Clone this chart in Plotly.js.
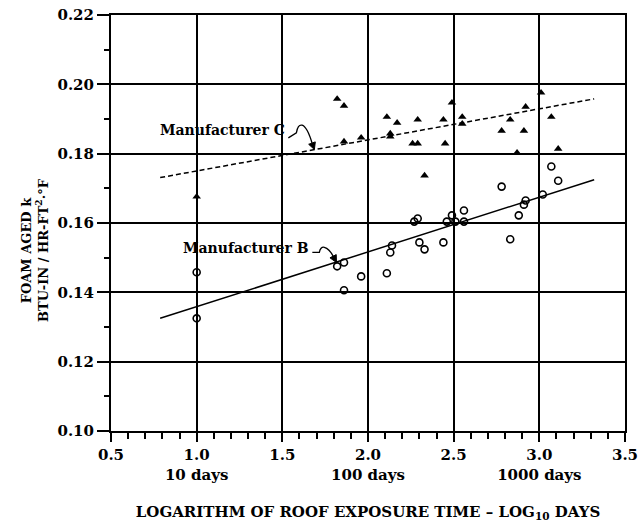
<!DOCTYPE html>
<html>
<head>
<meta charset="utf-8">
<script src="https://cdn.plot.ly/plotly-3.0.1.min.js"></script>
<style>html,body{margin:0;padding:0;background:#fff}#chart{width:641px;height:526px}</style>
</head>
<body>
<div id="chart"></div>
<script>
// Manufacturer C (filled triangles)
const cX = [1.0, 1.82, 1.86, 1.86, 1.96, 2.11, 2.17, 2.13, 2.13, 2.26, 2.29, 2.29, 2.33, 2.44, 2.45, 2.49, 2.55, 2.55, 2.78, 2.83, 2.87, 2.91, 2.92, 3.01, 3.07, 3.11];
const cY = [0.1676, 0.1958, 0.1938, 0.1835, 0.1846, 0.1906, 0.1889, 0.1858, 0.1849, 0.1829, 0.1829, 0.1898, 0.1737, 0.1898, 0.1829, 0.1947, 0.1906, 0.1886, 0.1866, 0.1898, 0.1803, 0.1866, 0.1935, 0.1976, 0.1906, 0.1814];
// Manufacturer B (open circles)
const bX = [1.0, 1.0, 1.82, 1.86, 1.86, 1.96, 2.11, 2.13, 2.14, 2.27, 2.29, 2.30, 2.33, 2.44, 2.46, 2.49, 2.51, 2.56, 2.56, 2.78, 2.83, 2.88, 2.91, 2.92, 3.02, 3.07, 3.11];
const bY = [0.1458, 0.1325, 0.1475, 0.1486, 0.1406, 0.1446, 0.1455, 0.1515, 0.1535, 0.1604, 0.1613, 0.1544, 0.1524, 0.1544, 0.1604, 0.1622, 0.1604, 0.1636, 0.1604, 0.1705, 0.1553, 0.1622, 0.1653, 0.1665, 0.1682, 0.1763, 0.1722];
// fitted lines (endpoints)
const fitX = [0.787, 3.32];
const fitCY = [0.1731, 0.1958];
const fitBY = [0.1325, 0.1725];

// x tick labels with day equivalents
const xLabelAlias = {'1.0': '1.0<br>10 days', '2.0': '2.0<br>100 days', '3.0': '3.0<br>1000 days'};

const F = 'DejaVu Serif, serif';

const traces = [
  {x: fitX, y: fitCY, mode: 'lines', line: {color: 'black', width: 1.5, dash: '5px,3px'}, hoverinfo: 'skip'},
  {x: fitX, y: fitBY, mode: 'lines', line: {color: 'black', width: 1.5}, hoverinfo: 'skip'},
  {x: cX, y: cY, mode: 'markers', marker: {symbol: 'triangle-up', size: 7.5, color: 'black'}},
  {x: bX, y: bY, mode: 'markers', marker: {symbol: 'circle-open', size: 7, color: 'black', line: {width: 1.6, color: 'black'}}}
];

const layout = {
  width: 641, height: 526,
  margin: {l: 111, r: 16, t: 15, b: 95},
  paper_bgcolor: 'white', plot_bgcolor: 'white',
  showlegend: false,
  font: {family: F, color: 'black'},
  xaxis: {
    range: [0.5, 3.5], tickmode: 'linear', tick0: 0.5, dtick: 0.5, tickformat: '.1f', labelalias: xLabelAlias,
    showgrid: true, gridcolor: '#000000', gridwidth: 2, zeroline: false,
    showline: true, linecolor: '#000000', linewidth: 2, mirror: true,
    ticks: 'outside', ticklen: 9, tickwidth: 2, tickcolor: '#000000',
    minor: {dtick: 0.1, tick0: 0.5, ticks: 'outside', ticklen: 6, tickwidth: 2, tickcolor: '#000000', showgrid: false},
    tickfont: {family: F, size: 15, weight: 'bold'},
    title: {text: 'LOGARITHM OF ROOF EXPOSURE TIME – LOG<sub>10</sub> DAYS', font: {family: F, size: 15, weight: 'bold'}, standoff: 24}
  },
  yaxis: {
    range: [0.10, 0.22], tickmode: 'linear', tick0: 0.10, dtick: 0.02, tickformat: '.2f',
    showgrid: true, gridcolor: '#000000', gridwidth: 2, zeroline: false,
    showline: true, linecolor: '#000000', linewidth: 2, mirror: true,
    ticks: 'outside', ticklen: 12, tickwidth: 2, tickcolor: '#000000',
    minor: {dtick: 0.01, tick0: 0.10, ticks: 'outside', ticklen: 5, tickwidth: 2, tickcolor: '#000000', showgrid: false},
    tickfont: {family: F, size: 15, weight: 'bold'}
  },
  shapes: [
    {type: 'path', xref: 'x', yref: 'y', path: 'M1.535,0.18455 L1.582,0.1860 Q1.59,0.1885 1.615,0.1882 Q1.645,0.1878 1.675,0.1828', line: {color: 'black', width: 1.3}},
    {type: 'path', xref: 'x', yref: 'y', path: 'M1.687,0.1812 L1.6538,0.18271 L1.6924,0.18340 Z', fillcolor: 'black', line: {color: 'black', width: 1}},
    {type: 'path', xref: 'x', yref: 'y', path: 'M1.675,0.1515 L1.716,0.1515 Q1.722,0.1532 1.745,0.1530 Q1.775,0.1526 1.798,0.1503', line: {color: 'black', width: 1.3}},
    {type: 'path', xref: 'x', yref: 'y', path: 'M1.816,0.1486 L1.778,0.14996 L1.8146,0.15088 Z', fillcolor: 'black', line: {color: 'black', width: 1}}
  ],
  annotations: [
    {x: 1.53, y: 0.1869, xref: 'x', yref: 'y', text: 'Manufacturer C', showarrow: false, xanchor: 'right', yanchor: 'middle', font: {family: F, size: 14, weight: 'bold'}},
    {x: 1.668, y: 0.1528, xref: 'x', yref: 'y', text: 'Manufacturer B', showarrow: false, xanchor: 'right', yanchor: 'middle', font: {family: F, size: 14, weight: 'bold'}},
    {x: (35 - 111) / (641 - 111 - 16), y: 0.5 + (223 - 250) / 416, xref: 'paper', yref: 'paper', xanchor: 'center', yanchor: 'middle', text: 'FOAM AGED k<br>BTU-IN / HR-FT<sup>2</sup>·°F', textangle: -90, showarrow: false, font: {family: F, size: 13, weight: 'bold'}}
  ]
};

Plotly.newPlot('chart', traces, layout, {displayModeBar: false, staticPlot: true});
</script>
</body>
</html>
